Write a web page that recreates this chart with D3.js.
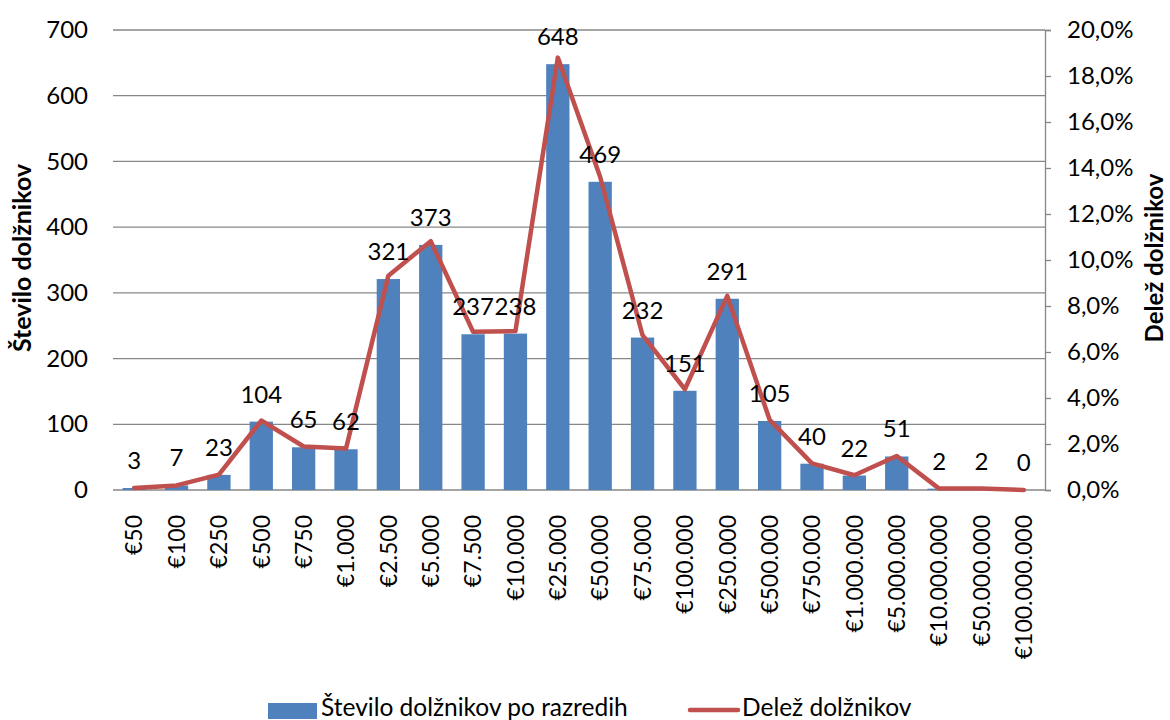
<!DOCTYPE html>
<html><head><meta charset="utf-8">
<script src="https://cdn.jsdelivr.net/npm/d3@7"></script>
<style>body{margin:0;background:#fff}svg{display:block}text{font-family:Lato,"Open Sans",sans-serif;fill:#000}</style>
</head><body><svg id="c" width="1170" height="720"></svg>
<script>
const categories = ["€50","€100","€250","€500","€750","€1.000","€2.500","€5.000","€7.500","€10.000","€25.000","€50.000","€75.000","€100.000","€250.000","€500.000","€750.000","€1.000.000","€5.000.000","€10.000.000","€50.000.000","€100.000.000"];
const counts = [3,7,23,104,65,62,321,373,237,238,648,469,232,151,291,105,40,22,51,2,2,0];
const shares = [0.09,0.20,0.67,3.02,1.89,1.80,9.32,10.82,6.88,6.91,18.80,13.61,6.73,4.38,8.44,3.05,1.16,0.64,1.48,0.06,0.06,0.0];
const leftTicks = [0,100,200,300,400,500,600,700];
const rightTicks = [0,2,4,6,8,10,12,14,16,18,20];
const seriesNames = ["Število dolžnikov po razredih","Delež dolžnikov"];
const yTitleLeft = "Število dolžnikov", yTitleRight = "Delež dolžnikov";

const svg = d3.select("#c");
const L=113, R=1045, T=30, B=490;
const x = d3.scaleBand().domain(categories).range([L,R]).paddingInner(0.45).paddingOuter(0.225);
const y = d3.scaleLinear().domain([0,700]).range([B,T]);
const y2 = d3.scaleLinear().domain([0,20]).range([B,T]);

// gridlines
svg.append("g").selectAll("line").data(leftTicks).join("line")
  .attr("x1",L).attr("x2",R).attr("y1",d=>y(d)).attr("y2",d=>y(d))
  .attr("stroke","#878787").attr("stroke-width",1.3);

// left axis labels
const gl = svg.append("g").attr("transform",`translate(${L},0)`)
  .call(d3.axisLeft(y).tickValues(leftTicks).tickSize(0).tickPadding(25));
gl.select(".domain").remove();
gl.selectAll("text").style("font-size","24px").style("font-family","Lato");

// right axis
const gr = svg.append("g").attr("transform",`translate(${R},0)`)
  .call(d3.axisRight(y2).tickValues(rightTicks).tickSize(6).tickPadding(16).tickFormat(d=>d.toFixed(1).replace(".",",")+"%"));
gr.select(".domain").attr("stroke","#878787").attr("stroke-width",1.3);
gr.selectAll("line").attr("stroke","#878787").attr("stroke-width",1.3);
gr.selectAll("text").style("font-size","24px").style("font-family","Lato");

// bars
svg.append("g").selectAll("rect").data(counts).join("rect")
  .attr("x",(d,i)=>x(categories[i])).attr("width",x.bandwidth())
  .attr("y",d=>y(d)).attr("height",d=>B-y(d)).attr("fill","#4F81BD");

// line
const line = d3.line().x((d,i)=>x(categories[i])+x.bandwidth()/2).y(d=>y2(d));
svg.append("path").datum(shares).attr("d",line).attr("fill","none")
  .attr("stroke","#C0504D").attr("stroke-width",4.5).attr("stroke-linejoin","round").attr("stroke-linecap","round");

// data labels
svg.append("g").selectAll("text").data(counts).join("text")
  .attr("x",(d,i)=>x(categories[i])+x.bandwidth()/2).attr("y",d=>y(d)-19)
  .attr("text-anchor","middle").style("font-size","24px").text(d=>d);

// x labels
svg.append("g").selectAll("text").data(categories).join("text")
  .attr("transform",d=>`translate(${x(d)+x.bandwidth()/2},515) rotate(-90)`)
  .attr("text-anchor","end").attr("dy","0.36em").style("font-size","23px").text(d=>d);

// axis titles
svg.append("text").attr("transform","translate(31,258) rotate(-90)").attr("text-anchor","middle")
  .style("font-size","25px").style("font-weight","bold").text(yTitleLeft);
svg.append("text").attr("transform","translate(1163,258) rotate(-90)").attr("text-anchor","middle")
  .style("font-size","24px").style("font-weight","bold").text(yTitleRight);

// legend
svg.append("rect").attr("x",268).attr("y",703).attr("width",49).attr("height",16).attr("fill","#4F81BD");
svg.append("text").attr("x",321).attr("y",716).style("font-size","24.5px").text(seriesNames[0]);
svg.append("line").attr("x1",690).attr("x2",738).attr("y1",710).attr("y2",710)
  .attr("stroke","#C0504D").attr("stroke-width",4.5).attr("stroke-linecap","round");
svg.append("text").attr("x",742).attr("y",716).style("font-size","24.5px").text(seriesNames[1]);
</script></body></html>
